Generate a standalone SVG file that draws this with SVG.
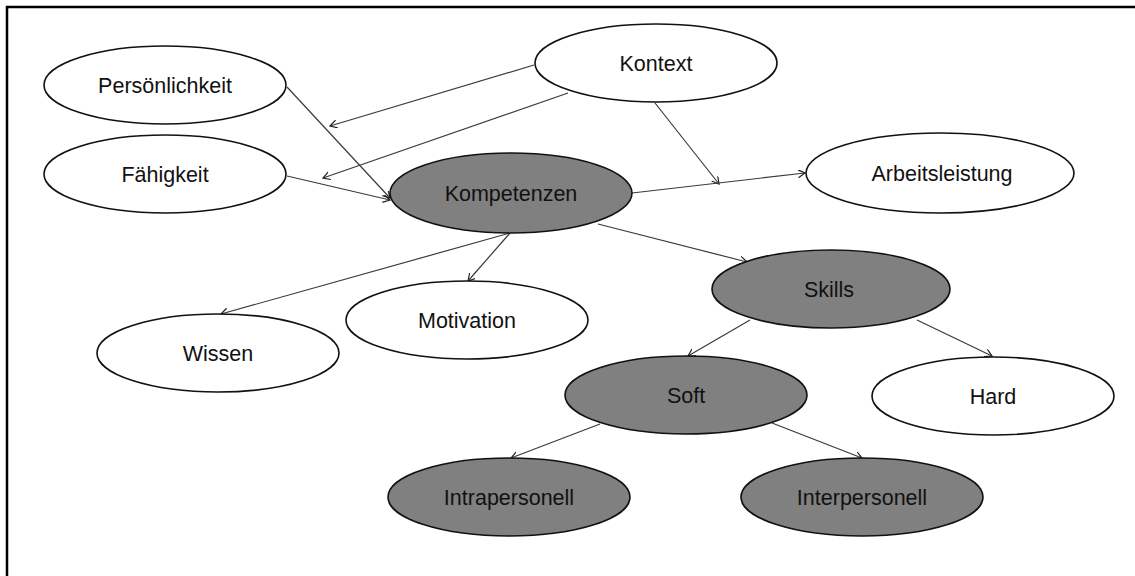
<svg xmlns="http://www.w3.org/2000/svg" width="1135" height="576" viewBox="0 0 1135 576">
  <style>
    .node { stroke: #111; stroke-width: 1.6; }
    .plain { fill: #ffffff; }
    .core { fill: #808080; }
    .label { font-family: "Liberation Sans", Arial, sans-serif; font-size: 21.5px; fill: #111; text-anchor: middle; }
    .edge { stroke: #3a3a3a; stroke-width: 1.2; fill: none; marker-end: url(#arrow); }
  </style>
  <defs>
    <marker id="arrow" markerUnits="userSpaceOnUse" markerWidth="10" markerHeight="10" refX="7" refY="4" orient="auto">
      <path d="M0,0 L7,4 L0,8" fill="none" stroke="#222" stroke-width="1.2"/>
    </marker>
  </defs>

  <rect width="1135" height="576" fill="#ffffff"/>
  <!-- frame -->
  <path d="M7,576 V7 H1135" fill="none" stroke="#000" stroke-width="2.5"/>

  <g id="connectors">
    <line class="edge" x1="287" y1="87" x2="390" y2="198"/>
    <line class="edge" x1="287" y1="176" x2="390" y2="200"/>
    <line class="edge" x1="534" y1="65" x2="330" y2="126"/>
    <line class="edge" x1="568" y1="93" x2="323" y2="178"/>
    <line class="edge" x1="655" y1="103" x2="719" y2="184"/>
    <line class="edge" x1="632" y1="193" x2="805" y2="173"/>
    <line class="edge" x1="598" y1="224" x2="747" y2="262"/>
    <line class="edge" x1="510" y1="233" x2="221" y2="314"/>
    <line class="edge" x1="510" y1="233" x2="468" y2="281"/>
    <line class="edge" x1="750" y1="320" x2="688" y2="356"/>
    <line class="edge" x1="917" y1="320" x2="992" y2="356"/>
    <line class="edge" x1="600" y1="424" x2="511" y2="458"/>
    <line class="edge" x1="772" y1="423" x2="862" y2="458"/>
  </g>

  <g id="persoenlichkeit">
    <ellipse class="node plain" cx="165" cy="85" rx="121" ry="39"/>
    <text class="label" x="165" y="93">Persönlichkeit</text>
  </g>
  <g id="faehigkeit">
    <ellipse class="node plain" cx="165" cy="174" rx="121" ry="39"/>
    <text class="label" x="165" y="182">Fähigkeit</text>
  </g>
  <g id="kontext">
    <ellipse class="node plain" cx="656" cy="63" rx="121" ry="39"/>
    <text class="label" x="656" y="71">Kontext</text>
  </g>
  <g id="kompetenzen">
    <ellipse class="node core" cx="511" cy="193" rx="121" ry="40"/>
    <text class="label" x="511" y="201">Kompetenzen</text>
  </g>
  <g id="arbeitsleistung">
    <ellipse class="node plain" cx="940" cy="173" rx="134" ry="40"/>
    <text class="label" x="942" y="181">Arbeitsleistung</text>
  </g>
  <g id="skills">
    <ellipse class="node core" cx="831" cy="289" rx="119" ry="39"/>
    <text class="label" x="829" y="297">Skills</text>
  </g>
  <g id="motivation">
    <ellipse class="node plain" cx="467" cy="320" rx="121" ry="39"/>
    <text class="label" x="467" y="328">Motivation</text>
  </g>
  <g id="wissen">
    <ellipse class="node plain" cx="218" cy="353" rx="121" ry="39"/>
    <text class="label" x="218" y="361">Wissen</text>
  </g>
  <g id="soft">
    <ellipse class="node core" cx="686" cy="395" rx="121" ry="39"/>
    <text class="label" x="686" y="403">Soft</text>
  </g>
  <g id="hard">
    <ellipse class="node plain" cx="993" cy="396" rx="121" ry="39"/>
    <text class="label" x="993" y="404">Hard</text>
  </g>
  <g id="intrapersonell">
    <ellipse class="node core" cx="509" cy="497" rx="121" ry="39"/>
    <text class="label" x="509" y="505">Intrapersonell</text>
  </g>
  <g id="interpersonell">
    <ellipse class="node core" cx="862" cy="497" rx="121" ry="39"/>
    <text class="label" x="862" y="505">Interpersonell</text>
  </g>
</svg>
